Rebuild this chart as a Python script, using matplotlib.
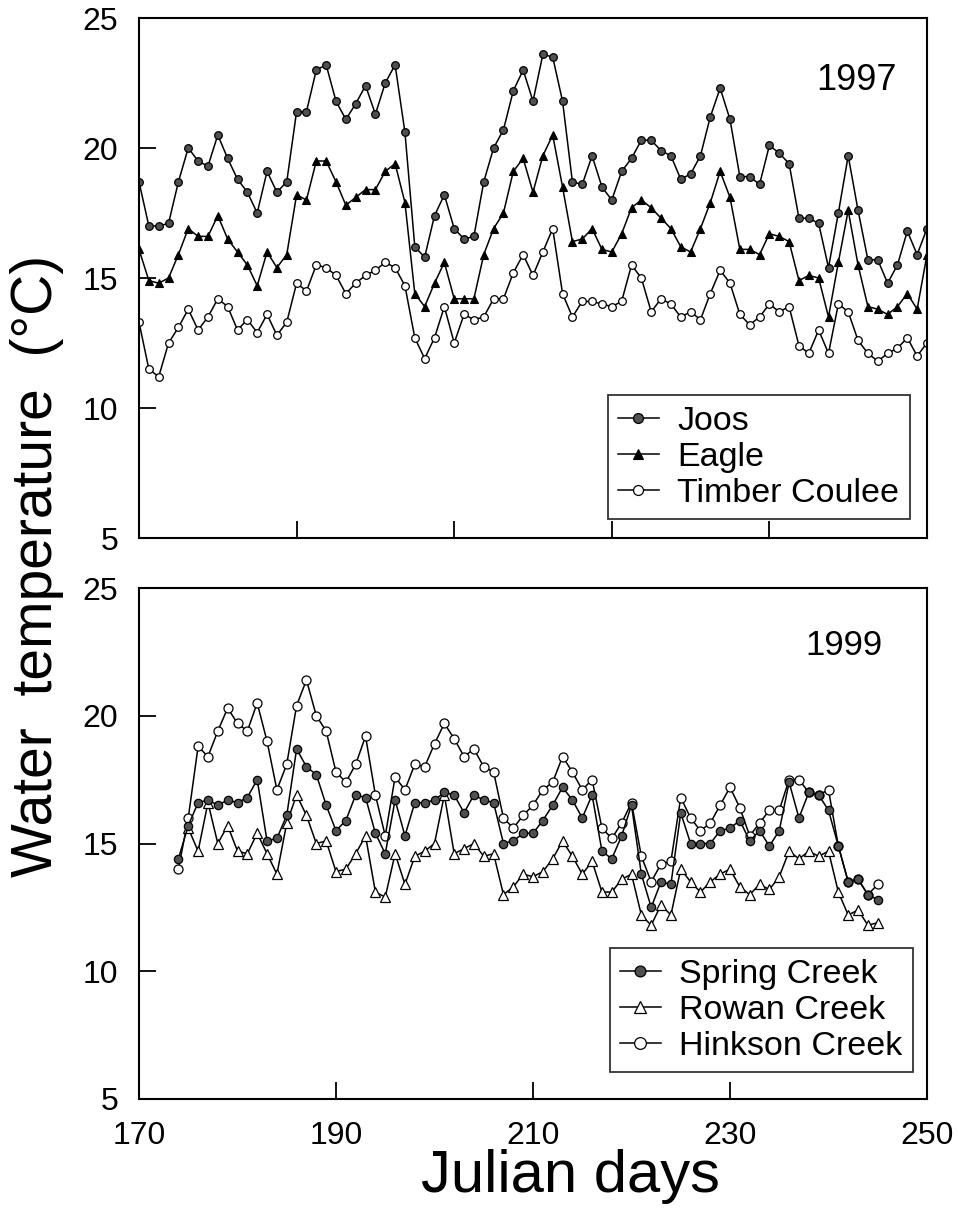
import matplotlib
matplotlib.use("Agg")
import matplotlib.pyplot as plt
import numpy as np

plt.rcParams['font.family'] = ['Liberation Sans', 'DejaVu Sans']

# ---------------- data ----------------
days_1997 = list(range(170, 251))
joos = [18.7, 17.0, 17.0, 17.1, 18.7, 20.0, 19.5, 19.3, 20.5, 19.6, 18.8, 18.3, 17.5, 19.1, 18.3, 18.7,
        21.4, 21.4, 23.0, 23.2, 21.8, 21.1, 21.7, 22.4, 21.3, 22.5, 23.2, 20.6, 16.2, 15.8, 17.4, 18.2,
        16.9, 16.5, 16.6, 18.7, 20.0, 20.7, 22.2, 23.0, 21.8, 23.6, 23.5, 21.8, 18.7, 18.6, 19.7, 18.5,
        18.0, 19.1, 19.6, 20.3, 20.3, 19.9, 19.7, 18.8, 19.0, 19.7, 21.2, 22.3, 21.1, 18.9, 18.9, 18.6,
        20.1, 19.8, 19.4, 17.3, 17.3, 17.1, 15.4, 17.5, 19.7, 17.6, 15.7, 15.7, 14.8, 15.5, 16.8, 15.9, 16.9]
eagle = [16.1, 14.9, 14.8, 15.0, 15.9, 16.9, 16.6, 16.6, 17.4, 16.5, 16.0, 15.5, 14.7, 16.0, 15.4, 15.9,
         18.2, 18.0, 19.5, 19.5, 18.7, 17.8, 18.1, 18.4, 18.4, 19.1, 19.4, 17.9, 14.4, 13.9, 14.8, 15.6,
         14.2, 14.2, 14.2, 15.9, 16.9, 17.5, 19.1, 19.6, 18.3, 19.7, 20.5, 18.5, 16.4, 16.5, 16.9, 16.1,
         16.0, 16.7, 17.7, 18.0, 17.7, 17.3, 16.9, 16.2, 16.0, 16.9, 17.9, 19.1, 18.1, 16.1, 16.1, 15.9,
         16.7, 16.6, 16.4, 14.9, 15.1, 15.0, 13.5, 15.6, 17.6, 15.5, 13.9, 13.8, 13.6, 13.9, 14.4, 13.8, 15.9]
timber = [13.3, 11.5, 11.2, 12.5, 13.1, 13.8, 13.0, 13.5, 14.2, 13.9, 13.0, 13.4, 12.9, 13.6, 12.8, 13.3,
          14.8, 14.5, 15.5, 15.4, 15.1, 14.4, 14.8, 15.1, 15.3, 15.6, 15.4, 14.7, 12.7, 11.9, 12.7, 13.9,
          12.5, 13.6, 13.4, 13.5, 14.2, 14.2, 15.2, 15.9, 15.1, 16.0, 16.9, 14.4, 13.5, 14.1, 14.1, 14.0,
          13.9, 14.1, 15.5, 15.0, 13.7, 14.2, 14.0, 13.5, 13.7, 13.4, 14.4, 15.3, 14.8, 13.6, 13.2, 13.5,
          14.0, 13.7, 13.9, 12.4, 12.1, 13.0, 12.1, 14.0, 13.7, 12.6, 12.1, 11.8, 12.1, 12.3, 12.7, 12.0, 12.5]

days_1999 = list(range(174, 246))
spring = [14.4, 15.7, 16.6, 16.7, 16.5, 16.7, 16.6, 16.8, 17.5, 15.1, 15.2, 16.1, 18.7, 18.0, 17.7, 16.5,
          15.5, 15.9, 16.9, 16.8, 15.4, 14.6, 16.7, 15.3, 16.6, 16.6, 16.7, 17.0, 16.9, 16.2, 16.9, 16.7,
          16.6, 15.0, 15.1, 15.4, 15.4, 15.9, 16.5, 17.2, 16.7, 16.0, 16.9, 14.7, 14.4, 15.3, 16.5, 13.8,
          12.5, 13.5, 13.4, 16.2, 15.0, 15.0, 15.0, 15.5, 15.6, 15.9, 15.1, 15.5, 14.9, 15.5, 17.4, 16.0,
          17.0, 16.9, 16.3, 14.9, 13.5, 13.6, 13.0, 12.8]
hinkson = [14.0, 16.0, 18.8, 18.4, 19.4, 20.3, 19.7, 19.4, 20.5, 19.0, 17.1, 18.1, 20.4, 21.4, 20.0, 19.4,
           17.8, 17.4, 18.1, 19.2, 16.9, 15.3, 17.6, 17.1, 18.1, 18.0, 18.9, 19.7, 19.1, 18.4, 18.7, 18.0,
           17.8, 16.0, 15.6, 16.1, 16.5, 17.1, 17.4, 18.4, 17.8, 17.1, 17.5, 15.6, 15.2, 15.8, 16.6, 14.5,
           13.5, 14.2, 14.3, 16.8, 16.0, 15.5, 15.8, 16.5, 17.2, 16.4, 15.3, 15.8, 16.3, 16.3, 17.5, 17.5,
           17.0, 16.9, 17.1, 14.9, 13.5, 13.6, 13.0, 13.4]
days_rowan = list(range(175, 246))
rowan = [15.6, 14.7, 16.6, 15.0, 15.7, 14.7, 14.6, 15.4, 14.6, 13.8, 15.8, 16.9, 16.1, 15.0, 15.1, 13.9,
         14.0, 14.6, 15.3, 13.1, 12.9, 14.6, 13.4, 14.5, 14.7, 15.0, 16.9, 14.6, 14.8, 15.0, 14.5, 14.6,
         13.0, 13.3, 13.8, 13.7, 13.9, 14.4, 15.1, 14.5, 13.8, 14.3, 13.1, 13.1, 13.6, 13.8, 12.2, 11.8,
         12.6, 12.2, 14.0, 13.5, 13.1, 13.5, 13.8, 14.0, 13.3, 13.0, 13.4, 13.2, 13.7, 14.7, 14.4, 14.7,
         14.5, 14.7, 13.1, 12.2, 12.4, 11.8, 11.9]

yticks = [5, 10, 15, 20, 25]
xticks_bottom = [170, 190, 210, 230, 250]
xticks_top = [186, 202, 218, 234]

# ---------------- figure ----------------
W, H = 958, 1222
fig = plt.figure(figsize=(W / 100, H / 100), dpi=100)

def px_axes(left, top, right, bottom):
    return fig.add_axes([left / W, 1 - bottom / H, (right - left) / W, (bottom - top) / H])

ax1 = px_axes(139, 18, 927, 538)
ax2 = px_axes(139, 588, 927, 1099)

lw = 1.1
gray = '#505050'

ax1.plot(days_1997, joos, '-', color='black', lw=lw, marker='o', ms=5.5,
         mfc=gray, mec='black', mew=0.9, label='Joos')
ax1.plot(days_1997, eagle, '-', color='black', lw=lw, marker='^', ms=6,
         mfc='black', mec='black', mew=0.8, label='Eagle')
ax1.plot(days_1997, timber, '-', color='black', lw=lw, marker='o', ms=5.5,
         mfc='white', mec='black', mew=0.9, label='Timber Coulee')

ax2.plot(days_1999, spring, '-', color='black', lw=lw, marker='o', ms=6,
         mfc=gray, mec='black', mew=0.9, label='Spring Creek', zorder=4)
ax2.plot(days_rowan, rowan, '-', color='black', lw=lw, marker='^', ms=6.5,
         mfc='white', mec='black', mew=0.9, label='Rowan Creek', zorder=3)
ax2.plot(days_1999, hinkson, '-', color='black', lw=lw, marker='o', ms=6.5,
         mfc='white', mec='black', mew=0.9, label='Hinkson Creek', zorder=2)

for ax in (ax1, ax2):
    ax.set_xlim(170, 250)
    ax.set_ylim(5, 25)
    ax.set_yticks(yticks)
    for s in ax.spines.values():
        s.set_linewidth(1.5)
    ax.tick_params(axis='both', direction='in', length=12, width=1.3,
                   top=False, right=False, labelsize=23)
    ax.tick_params(axis='y', pad=15)

ax1.set_xticks(xticks_top)
ax1.tick_params(axis='x', labelbottom=False)
ax2.set_xticks(xticks_bottom)
ax2.tick_params(axis='x', pad=16)

ax1.text(0.962, 0.879, '1997', transform=ax1.transAxes, fontsize=26, ha='right', va='center')
ax2.text(0.944, 0.888, '1999', transform=ax2.transAxes, fontsize=25, ha='right', va='center')

leg_kw = dict(frameon=True, fancybox=False, edgecolor='black', fontsize=24.5,
              handlelength=1.2, handletextpad=0.55, labelspacing=0.15,
              borderpad=0.3, borderaxespad=0, markerscale=1.3)
l1 = ax1.legend(loc='lower right', bbox_to_anchor=(0.978, 0.0365), **leg_kw)
l2 = ax2.legend(loc='lower right', bbox_to_anchor=(0.982, 0.053), **leg_kw)
for l in (l1, l2):
    l.get_frame().set_linewidth(1.3)

fig.text(37 / W, 1 - 566 / H, 'Water  temperature  (°C)', rotation=90,
         ha='center', va='center', fontsize=41)
fig.text(570 / W, 1 - 1177 / H, 'Julian days', ha='center', va='center', fontsize=43)

fig.savefig('out.png', dpi=100)
